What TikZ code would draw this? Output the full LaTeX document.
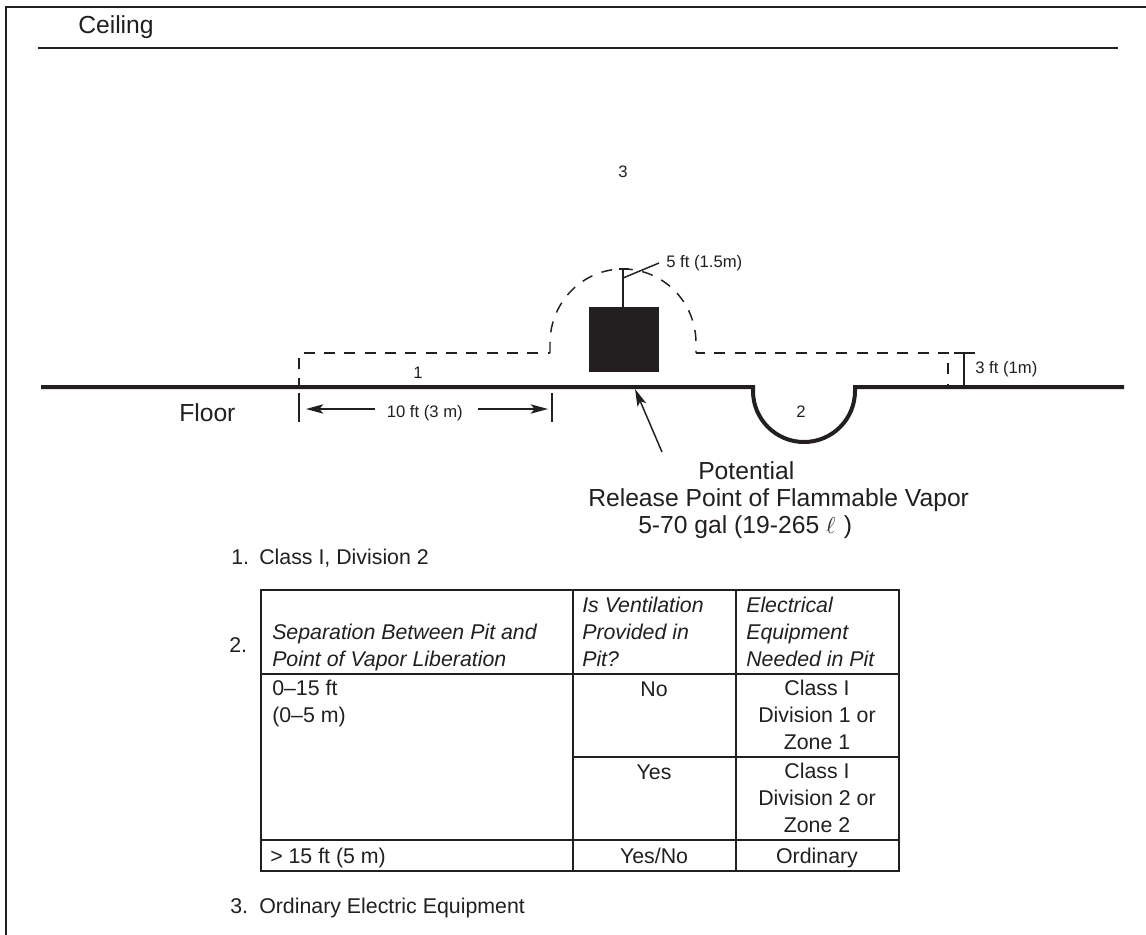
\documentclass[tikz,border=0pt]{standalone}
\usepackage{fontspec}
\setmainfont{Liberation Sans}
\usetikzlibrary{arrows.meta}
\definecolor{ink}{HTML}{231F20}
\tikzset{
  txt/.style={inner sep=0pt,text=ink,anchor=base west},
  big/.style={txt,font=\fontsize{18.5}{20}\selectfont},
  mid/.style={txt,font=\fontsize{16}{19.9}\selectfont},
  small/.style={txt,font=\fontsize{12.5}{14}\selectfont},
  cellL/.style={mid,align=left},
  cellI/.style={mid,align=left,font=\fontsize{16}{19.9}\selectfont\itshape},
  cellC/.style={mid,align=center,anchor=base},
  frameline/.style={draw=ink,line width=1.2pt},
  floorline/.style={draw=ink,line width=3pt},
  zone/.style={draw=ink,line width=1.1pt,dash pattern=on 8.25pt off 7pt,dash phase=1.5pt},
  domeline/.style={draw=ink,line width=1.1pt,dash pattern=on 8.25pt off 7.28pt},
  dim/.style={draw=ink,line width=1.1pt},
  rule/.style={draw=ink,line width=1.1pt},
  arrowline/.style={draw=ink,line width=1.1pt,-{Stealth[length=13pt,width=7pt,inset=3pt]}},
}
\begin{document}
\begin{tikzpicture}[x=0.75pt,y=-0.75pt]
\useasboundingbox (0,0) rectangle (1146,935);
\fill[white] (0,0) rectangle (1146,935);
% frame
\coordinate (fbl) at (6,935);
\coordinate (ftl) at (6,7);
\coordinate (ftr) at (1146,7);
\draw[frameline] (fbl) -- (ftl) -- (ftr);
% ceiling
\node[big] (ceiling) at (78,33) {Ceiling};
\coordinate (ceilL) at (38,48);
\coordinate (ceilR) at (1118,48);
\draw[draw=ink,line width=1.3pt] (ceilL) -- (ceilR);
\node[small] (three) at (618,177) {3};
% floor
\coordinate (floorL) at (41,387);
\coordinate (pitL) at (753,387);
\coordinate (pitR) at (855,387);
\coordinate (floorR) at (1124,387);
\draw[floorline] (floorL) -- (pitL) -- (753,391) arc[start angle=180,end angle=0,x radius=51,y radius=51] -- (pitR) -- (floorR);
\node[big] (floor) at (179,421) {Floor};
\node[small] (one) at (413,378) {1};
\node[small] (two) at (796,417) {2};
% box
\node[fill=ink,minimum width=52.5pt,minimum height=48.75pt,inner sep=0pt,anchor=north west] (box) at (589,307) {};
\coordinate (stemtop) at (623,269);
\draw[dim] (box.north -| stemtop) -- (stemtop);
\coordinate (capL) at (618.5,269);
\coordinate (capR) at (629,269);
\draw[dim] (capL) -- (capR);
\node[small] (fivelbl) at (666,267) {5 ft (1.5m)};
\coordinate (leadA) at (623,278);
\coordinate (leadB) at (659,263);
\draw[dim] (leadA) -- (leadB);
% dashed zone
\coordinate (zA) at (299,387);
\coordinate (zB) at (299,353);
\coordinate (zC) at (550,353);
\coordinate (zD) at (696,353);
\coordinate (zE) at (948,353);
\coordinate (zF) at (948,387);
\draw[zone] (zA) -- (zB) -- (zC);
\draw[domeline] (zC) -- (550,343) arc[start angle=180,end angle=0,x radius=73,y radius=-74] -- (zD);
\draw[zone] (zD) -- (zE) -- (zF);
% 3 ft
\coordinate (threeT) at (964,353);
\coordinate (threeB) at (964,387);
\draw[dim] (threeT) -- (threeB);
\coordinate (barL) at (954,353);
\coordinate (barR) at (975,353);
\draw[dim] (barL) -- (barR);
\node[small] (threelbl) at (975,373) {3 ft (1m)};
% 10 ft
\coordinate (dl1) at (299,393);
\coordinate (dl2) at (299,422);
\coordinate (dr1) at (552,393);
\coordinate (dr2) at (552,422);
\draw[dim] (dl1) -- (dl2);
\draw[dim] (dr1) -- (dr2);
\node[small] (tenlbl) at (386.5,417) {10 ft (3 m)};
\coordinate (arL) at (306,409);
\coordinate (arR) at (548,409);
\coordinate (arLt) at (375,409);
\coordinate (arRt) at (478,409);
\draw[arrowline] (arLt) -- (arL);
\draw[arrowline] (arRt) -- (arR);
% release
\coordinate (relA) at (662,452);
\coordinate (relB) at (635,389);
\draw[arrowline] (relA) -- (relB);
\node[big] (pot) at (698,479) {Potential};
\node[big] (rel) at (588,506) {Release Point of Flammable Vapor};
\node[big] (gal) at (638,533) {5-70 gal (19-265 $\ell$\,\,)};
% list
\node[mid] (l1) at (231,564) {1.};
\node[mid] (l1t) at (259,564) {Class I, Division 2};
\node[mid] (l2) at (229,652) {2.};
\node[mid] (l3) at (230,913) {3.};
\node[mid] (l3t) at (259,913) {Ordinary Electric Equipment};
% table
\coordinate (tTL) at (261,590);
\coordinate (tBR) at (899,871);
\draw[rule] (tTL) rectangle (tBR);
\draw[rule] (573,590) -- (573,871);
\draw[rule] (736,590) -- (736,871);
\draw[rule] (261,674) -- (899,674);
\draw[rule] (573,757) -- (899,757);
\draw[rule] (261,840) -- (899,840);
\node[cellI] (h1) at (272,666) {Separation Between Pit and\\Point of Vapor Liberation};
\node[cellI] (h2) at (582,666) {Is Ventilation\\Provided in\\Pit?};
\node[cellI] (h3) at (746,666) {Electrical\\Equipment\\Needed in Pit};
\node[cellL] (c1) at (272,722) {0–15 ft\\(0–5 m)};
\node[cellC] (no) at (654,696) {No};
\node[cellC] (d1) at (817,749) {Class I\\Division 1 or\\Zone 1};
\node[cellC] (yes) at (654,779) {Yes};
\node[cellC] (d2) at (817,832) {Class I\\Division 2 or\\Zone 2};
\node[cellL] (c3) at (270,863) {> 15 ft (5 m)};
\node[cellC] (yn) at (654,863) {Yes/No};
\node[cellC] (ord) at (817,863) {Ordinary};
\end{tikzpicture}
\end{document}
